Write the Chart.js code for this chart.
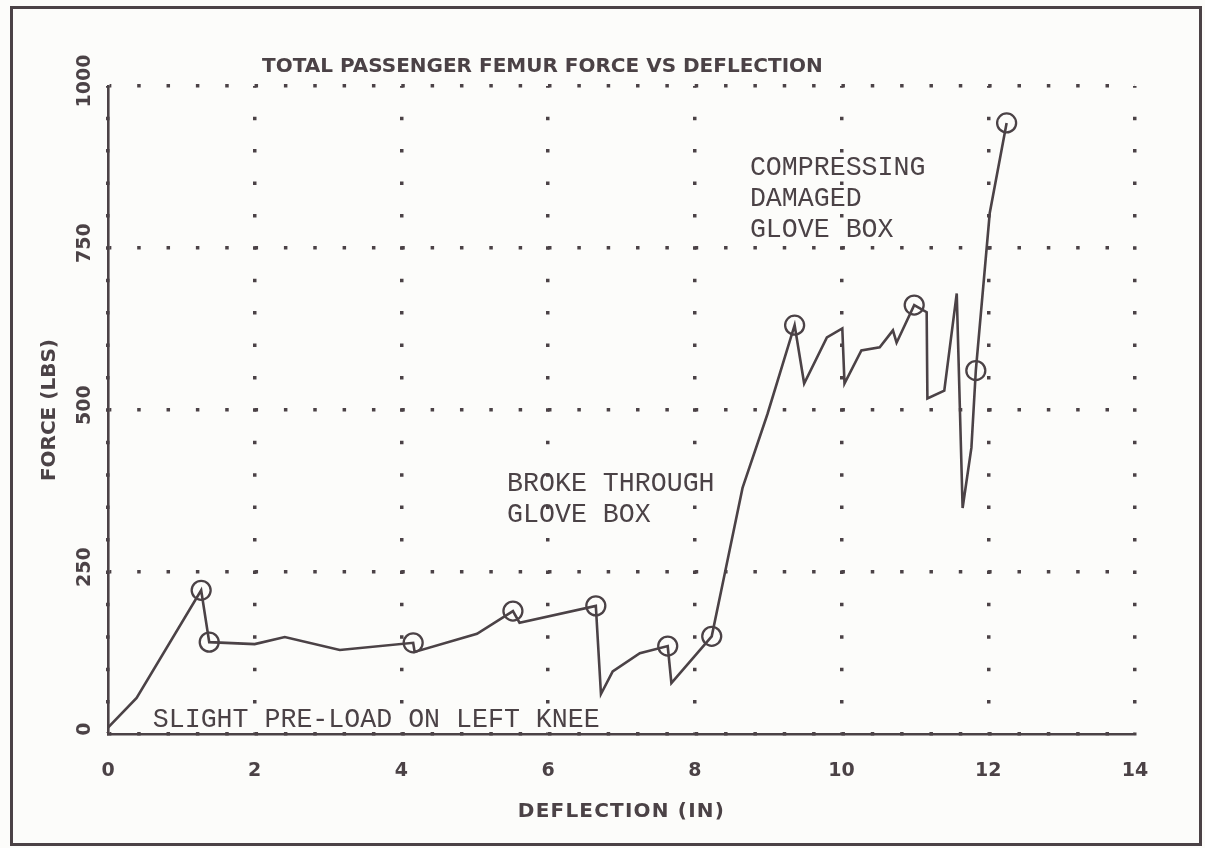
<!DOCTYPE html>
<html>
<head>
<meta charset="utf-8">
<script src="https://cdn.jsdelivr.net/npm/chart.js@4.4.1/dist/chart.umd.min.js"></script>
<style>
  html, body { margin: 0; padding: 0; background: #fcfcfa; }
  #wrap { position: relative; width: 1205px; height: 848px; overflow: hidden; }
  #frame {
    position: absolute; left: 10px; top: 6px; width: 1192px; height: 840px;
    border: 3px solid #4b4246; box-sizing: border-box; pointer-events: none;
  }
  canvas { position: absolute; left: 0; top: 0; }
</style>
</head>
<body>
<div id="wrap">
  <canvas id="chart" width="1205" height="848"></canvas>
  <div id="frame"></div>
</div>
<script>
// curve (deflection in, force lbs)
const deflection = [0, 0.39, 1.27, 1.38, 2.0, 2.41, 3.16, 4.16, 4.18, 5.03, 5.52, 5.61, 6.65, 6.72,
  6.88, 7.25, 7.63, 7.68, 8.23, 8.41, 8.65, 8.99, 9.36, 9.49, 9.80, 10.01, 10.04, 10.27, 10.52,
  10.70, 10.75, 10.99, 11.16, 11.17, 11.40, 11.57, 11.65, 11.77, 11.83, 12.02, 12.25];
const force = [10, 56, 222, 142, 139, 150, 130, 141, 127, 155, 190, 172, 198, 62,
  97, 125, 136, 79, 151, 249, 380, 494, 631, 541, 612, 626, 541, 592, 597,
  623, 604, 662, 651, 518, 530, 680, 349, 442, 561, 804, 943];

// circled points
const circleX = [1.27, 1.38, 4.16, 5.52, 6.65, 7.63, 8.23, 9.36, 10.99, 11.83, 12.25];
const circleY = [222, 142, 141, 190, 198, 136, 151, 631, 662, 561, 943];

const xTicks = [0, 2, 4, 6, 8, 10, 12, 14];
const yTicks = [0, 250, 500, 750, 1000];

const titleText = "TOTAL PASSENGER FEMUR FORCE VS DEFLECTION";
const xTitle = "DEFLECTION (IN)";
const yTitle = "FORCE (LBS)";

const noteLines = [
  ["SLIGHT PRE-LOAD ON LEFT KNEE"],
  ["BROKE THROUGH", "GLOVE BOX"],
  ["COMPRESSING", "DAMAGED", "GLOVE BOX"],
];
const noteX = [0.61, 5.44, 8.75];
const noteY = [11, 327, 767];

const ink = "#4b4246";
const boldFont = '"DejaVu Sans"';

// dotted grid: one dot every 0.4 in across, every 50 lbs down
function dots(ctx, horizontal) {
  const a = ctx.chart.chartArea;
  if (!a) return [3.5, 26];
  const period = horizontal ? a.width / 35 : a.height / 20;
  return [3.5, period - 3.5];
}

const textPlugin = {
  id: "texts",
  afterDraw(chart) {
    const { ctx, chartArea: a, scales } = chart;
    const x = scales.x;
    const y = scales.y;
    ctx.save();
    ctx.fillStyle = ink;

    ctx.font = "bold 20px " + boldFont;
    ctx.textAlign = "left";
    ctx.textBaseline = "alphabetic";
    ctx.fillText(titleText, a.left + 154, a.top - 14);

    ctx.textAlign = "center";
    ctx.letterSpacing = "1.2px";
    ctx.fillText(xTitle, (a.left + a.right) / 2, a.bottom + 83);
    ctx.letterSpacing = "0px";

    // y title, rotated
    ctx.save();
    ctx.translate(a.left - 58, (a.top + a.bottom) / 2);
    ctx.rotate(-Math.PI / 2);
    ctx.textBaseline = "middle";
    ctx.fillText(yTitle, 0, 0);
    ctx.restore();

    // y tick labels, rotated
    ctx.font = "bold 19px " + boldFont;
    yTicks.forEach((v) => {
      ctx.save();
      ctx.translate(a.left - 23, y.getPixelForValue(v) - 5);
      ctx.rotate(-Math.PI / 2);
      ctx.textBaseline = "middle";
      ctx.fillText(String(v), 0, 0);
      ctx.restore();
    });

    // notes
    ctx.font = '28px "Liberation Mono"';
    ctx.textAlign = "left";
    ctx.textBaseline = "alphabetic";
    noteLines.forEach((lines, i) => {
      const px = x.getPixelForValue(noteX[i]);
      const py = y.getPixelForValue(noteY[i]);
      lines.forEach((line, j) => {
        ctx.save();
        ctx.translate(px, py - (lines.length - 1 - j) * 31);
        ctx.scale(0.95, 1);
        ctx.fillText(line, 0, 0);
        ctx.restore();
      });
    });
    ctx.restore();
  },
};

new Chart(document.getElementById("chart"), {
  type: "scatter",
  data: {
    datasets: [
      {
        data: deflection.map((d, i) => ({ x: d, y: force[i] })),
        showLine: true,
        borderColor: ink,
        borderWidth: 2.6,
        pointRadius: 0,
        tension: 0,
      },
      {
        data: circleX.map((d, i) => ({ x: d, y: circleY[i] })),
        showLine: false,
        pointRadius: 9.5,
        pointBorderWidth: 2.3,
        pointBorderColor: ink,
        pointBackgroundColor: "rgba(0,0,0,0)",
      },
    ],
  },
  options: {
    responsive: false,
    animation: false,
    devicePixelRatio: 1,
    layout: { padding: { left: 108, right: 70, top: 86, bottom: 41 } },
    plugins: {
      legend: { display: false },
      tooltip: { enabled: false },
    },
    scales: {
      x: {
        type: "linear",
        min: 0,
        max: 14,
        afterBuildTicks: (s) => {
          s.ticks = xTicks.map((v) => ({ value: v }));
        },
        ticks: {
          color: ink,
          padding: 25,
          font: { family: "DejaVu Sans", weight: "bold", size: 19 },
        },
        grid: { color: ink, lineWidth: 3.5, drawTicks: false },
        border: {
          display: true,
          color: ink,
          width: 2.6,
          dash: (ctx) => dots(ctx, false),
          dashOffset: 1.75,
        },
      },
      y: {
        type: "linear",
        min: 0,
        max: 1000,
        afterBuildTicks: (s) => {
          s.ticks = yTicks.map((v) => ({ value: v }));
        },
        ticks: { display: false },
        grid: { color: ink, lineWidth: 3.5, drawTicks: false },
        border: {
          display: true,
          color: ink,
          width: 2.6,
          dash: (ctx) => dots(ctx, true),
          dashOffset: 1.75,
        },
      },
    },
  },
  plugins: [textPlugin],
});
</script>
</body>
</html>
